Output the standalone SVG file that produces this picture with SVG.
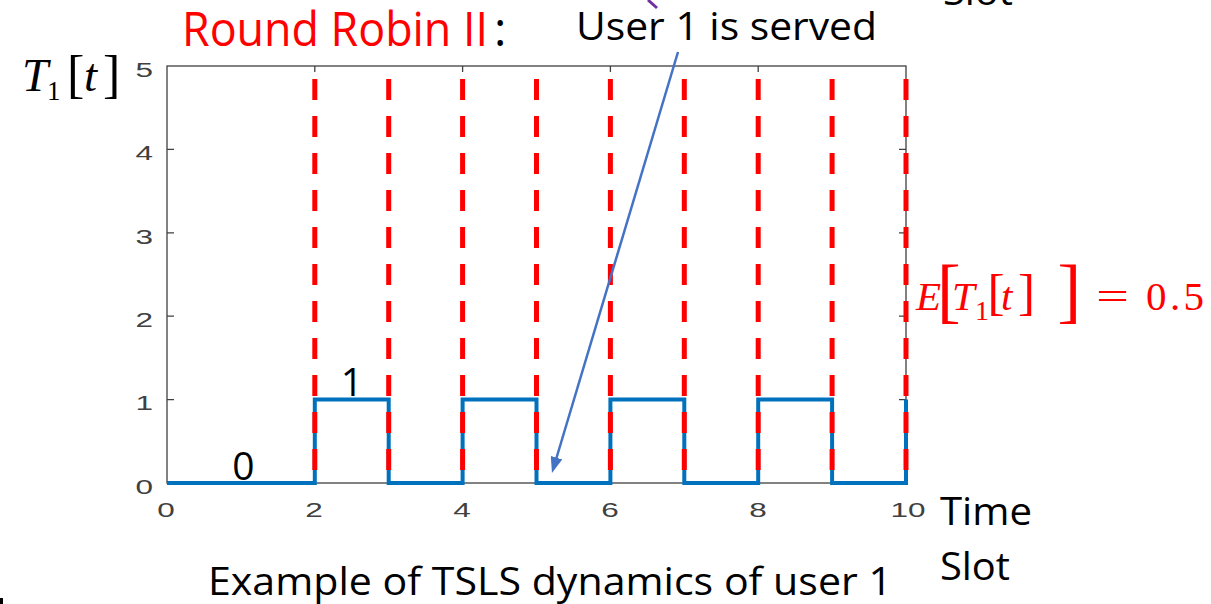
<svg xmlns="http://www.w3.org/2000/svg" width="1211" height="604" viewBox="0 0 1211 604">
<style>
.tl { font-family: "Liberation Sans", Arial, sans-serif; font-size: 21px; fill: #404040; }
.lbl { font-family: "Open Sans", "Liberation Sans", sans-serif; fill: #000; }
.s39 { font-size: 39px; }
.s47 { font-size: 47px; }
.math { font-family: "Liberation Serif", "DejaVu Serif", serif; }
.it { font-style: italic; }
.axis { fill: none; stroke: #404040; stroke-width: 1.3; }
.red-dash { fill: none; stroke: #ff0000; stroke-width: 5; stroke-dasharray: 21 16; stroke-dashoffset: 24; }
.step { fill: none; stroke: #0072BD; stroke-width: 4; stroke-linejoin: miter; }
</style>
<defs>
<marker id="ah" markerUnits="userSpaceOnUse" markerWidth="16" markerHeight="12" refX="4" refY="6" orient="auto">
<path d="M0,0 L16,6 L0,12 z" fill="#4472C4"/>
</marker>
</defs>
<rect width="1211" height="604" fill="#fff"/>

<g id="axes">
<rect class="axis" x="167" y="66" width="739" height="417"/>
<path class="axis" d="M167,149.4h7M167,232.8h7M167,316.2h7M167,399.6h7M906,149.4h-7M906,232.8h-7M906,316.2h-7M906,399.6h-7M314.8,66v6M462.6,66v6M610.4,66v6M758.2,66v6M314.8,483v-6M462.6,483v-6M610.4,483v-6M758.2,483v-6"/>
</g>

<g id="y-tick-labels">
<text class="tl" text-anchor="end" transform="translate(153 77) scale(1.5 1)">5</text>
<text class="tl" text-anchor="end" transform="translate(153 160) scale(1.5 1)">4</text>
<text class="tl" text-anchor="end" transform="translate(153 243.5) scale(1.5 1)">3</text>
<text class="tl" text-anchor="end" transform="translate(153 327) scale(1.5 1)">2</text>
<text class="tl" text-anchor="end" transform="translate(153 410) scale(1.5 1)">1</text>
<text class="tl" text-anchor="end" transform="translate(153 493.5) scale(1.5 1)">0</text>
</g>
<g id="x-tick-labels">
<text class="tl" text-anchor="middle" transform="translate(166 517) scale(1.5 1)">0</text>
<text class="tl" text-anchor="middle" transform="translate(314 517) scale(1.5 1)">2</text>
<text class="tl" text-anchor="middle" transform="translate(462 517) scale(1.5 1)">4</text>
<text class="tl" text-anchor="middle" transform="translate(610 517) scale(1.5 1)">6</text>
<text class="tl" text-anchor="middle" transform="translate(758 517) scale(1.5 1)">8</text>
<text class="tl" text-anchor="middle" transform="translate(908 517) scale(1.5 1)">10</text>
</g>

<g id="tsls-curve">
<path class="step" d="M167,483 H314.8 V399.6 H388.7 V483 H462.6 V399.6 H536.5 V483 H610.4 V399.6 H684.3 V483 H758.2 V399.6 H832.1 V483 H906 V399.6"/>
</g>

<g id="slot-boundaries">
<path class="red-dash" d="M314.8,66V483M388.7,66V483M462.6,66V483M536.5,66V483M610.4,66V483M684.3,66V483M758.2,66V483M832.1,66V483M906,66V483"/>
</g>

<g id="connectors">
<line x1="678" y1="52" x2="555.4" y2="461.5" stroke="#4472C4" stroke-width="2.5" marker-end="url(#ah)"/>
<line x1="648" y1="0" x2="657" y2="8" stroke="#7030A0" stroke-width="3"/>
</g>

<g id="title">
<text class="lbl s47" x="182" y="46" style="fill:#ff0000" textLength="306" lengthAdjust="spacingAndGlyphs">Round Robin II</text>
<text class="lbl s47" x="494" y="46">:</text>
</g>

<g id="annotation">
<text class="lbl s39" x="576" y="40" textLength="301" lengthAdjust="spacingAndGlyphs">User 1 is served</text>
</g>

<g id="top-slot-fragment">
<text class="lbl s39" x="943" y="5" textLength="70" lengthAdjust="spacingAndGlyphs">Slot</text>
</g>

<g id="y-label">
<text class="math" fill="#000"><tspan class="it" x="22" y="91" font-size="47">T</tspan><tspan x="47" y="100" font-size="27">1</tspan><tspan x="67" y="92" font-size="52">[</tspan><tspan class="it" x="84" y="91" font-size="47">t</tspan><tspan x="103" y="92" font-size="52">]</tspan></text>
</g>

<g id="value-labels">
<text class="lbl s39" x="243.5" y="480" text-anchor="middle">0</text>
<text class="lbl s39" x="352" y="396" text-anchor="middle">1</text>
</g>

<g id="mean-label">
<text class="math" fill="#ff0000" font-size="41"><tspan class="it" x="916" y="310">E</tspan><tspan x="937" y="314" font-size="71">[</tspan><tspan class="it" x="952" y="310">T</tspan><tspan x="975" y="320" font-size="28">1</tspan><tspan x="987.5" y="309" font-size="51">[</tspan><tspan class="it" x="1001" y="310">t</tspan><tspan x="1018" y="309" font-size="51">]</tspan><tspan x="1057.6" y="314" font-size="71">]</tspan></text>
<text class="math" fill="#ff0000" font-size="41" x="1096" y="310" textLength="33" lengthAdjust="spacingAndGlyphs">=</text>
<text class="math" fill="#ff0000" font-size="41" x="1146" y="310" textLength="58" lengthAdjust="spacing">0.5</text>
</g>

<g id="x-label">
<text class="lbl s39" x="940" y="525" textLength="92" lengthAdjust="spacingAndGlyphs">Time</text>
<text class="lbl s39" x="940" y="580" textLength="70" lengthAdjust="spacingAndGlyphs">Slot</text>
</g>

<g id="caption">
<text class="lbl s39" x="208" y="595" textLength="684" lengthAdjust="spacingAndGlyphs">Example of TSLS dynamics of user 1</text>
</g>

<rect x="0" y="598" width="3" height="6" fill="#000"/>
</svg>
